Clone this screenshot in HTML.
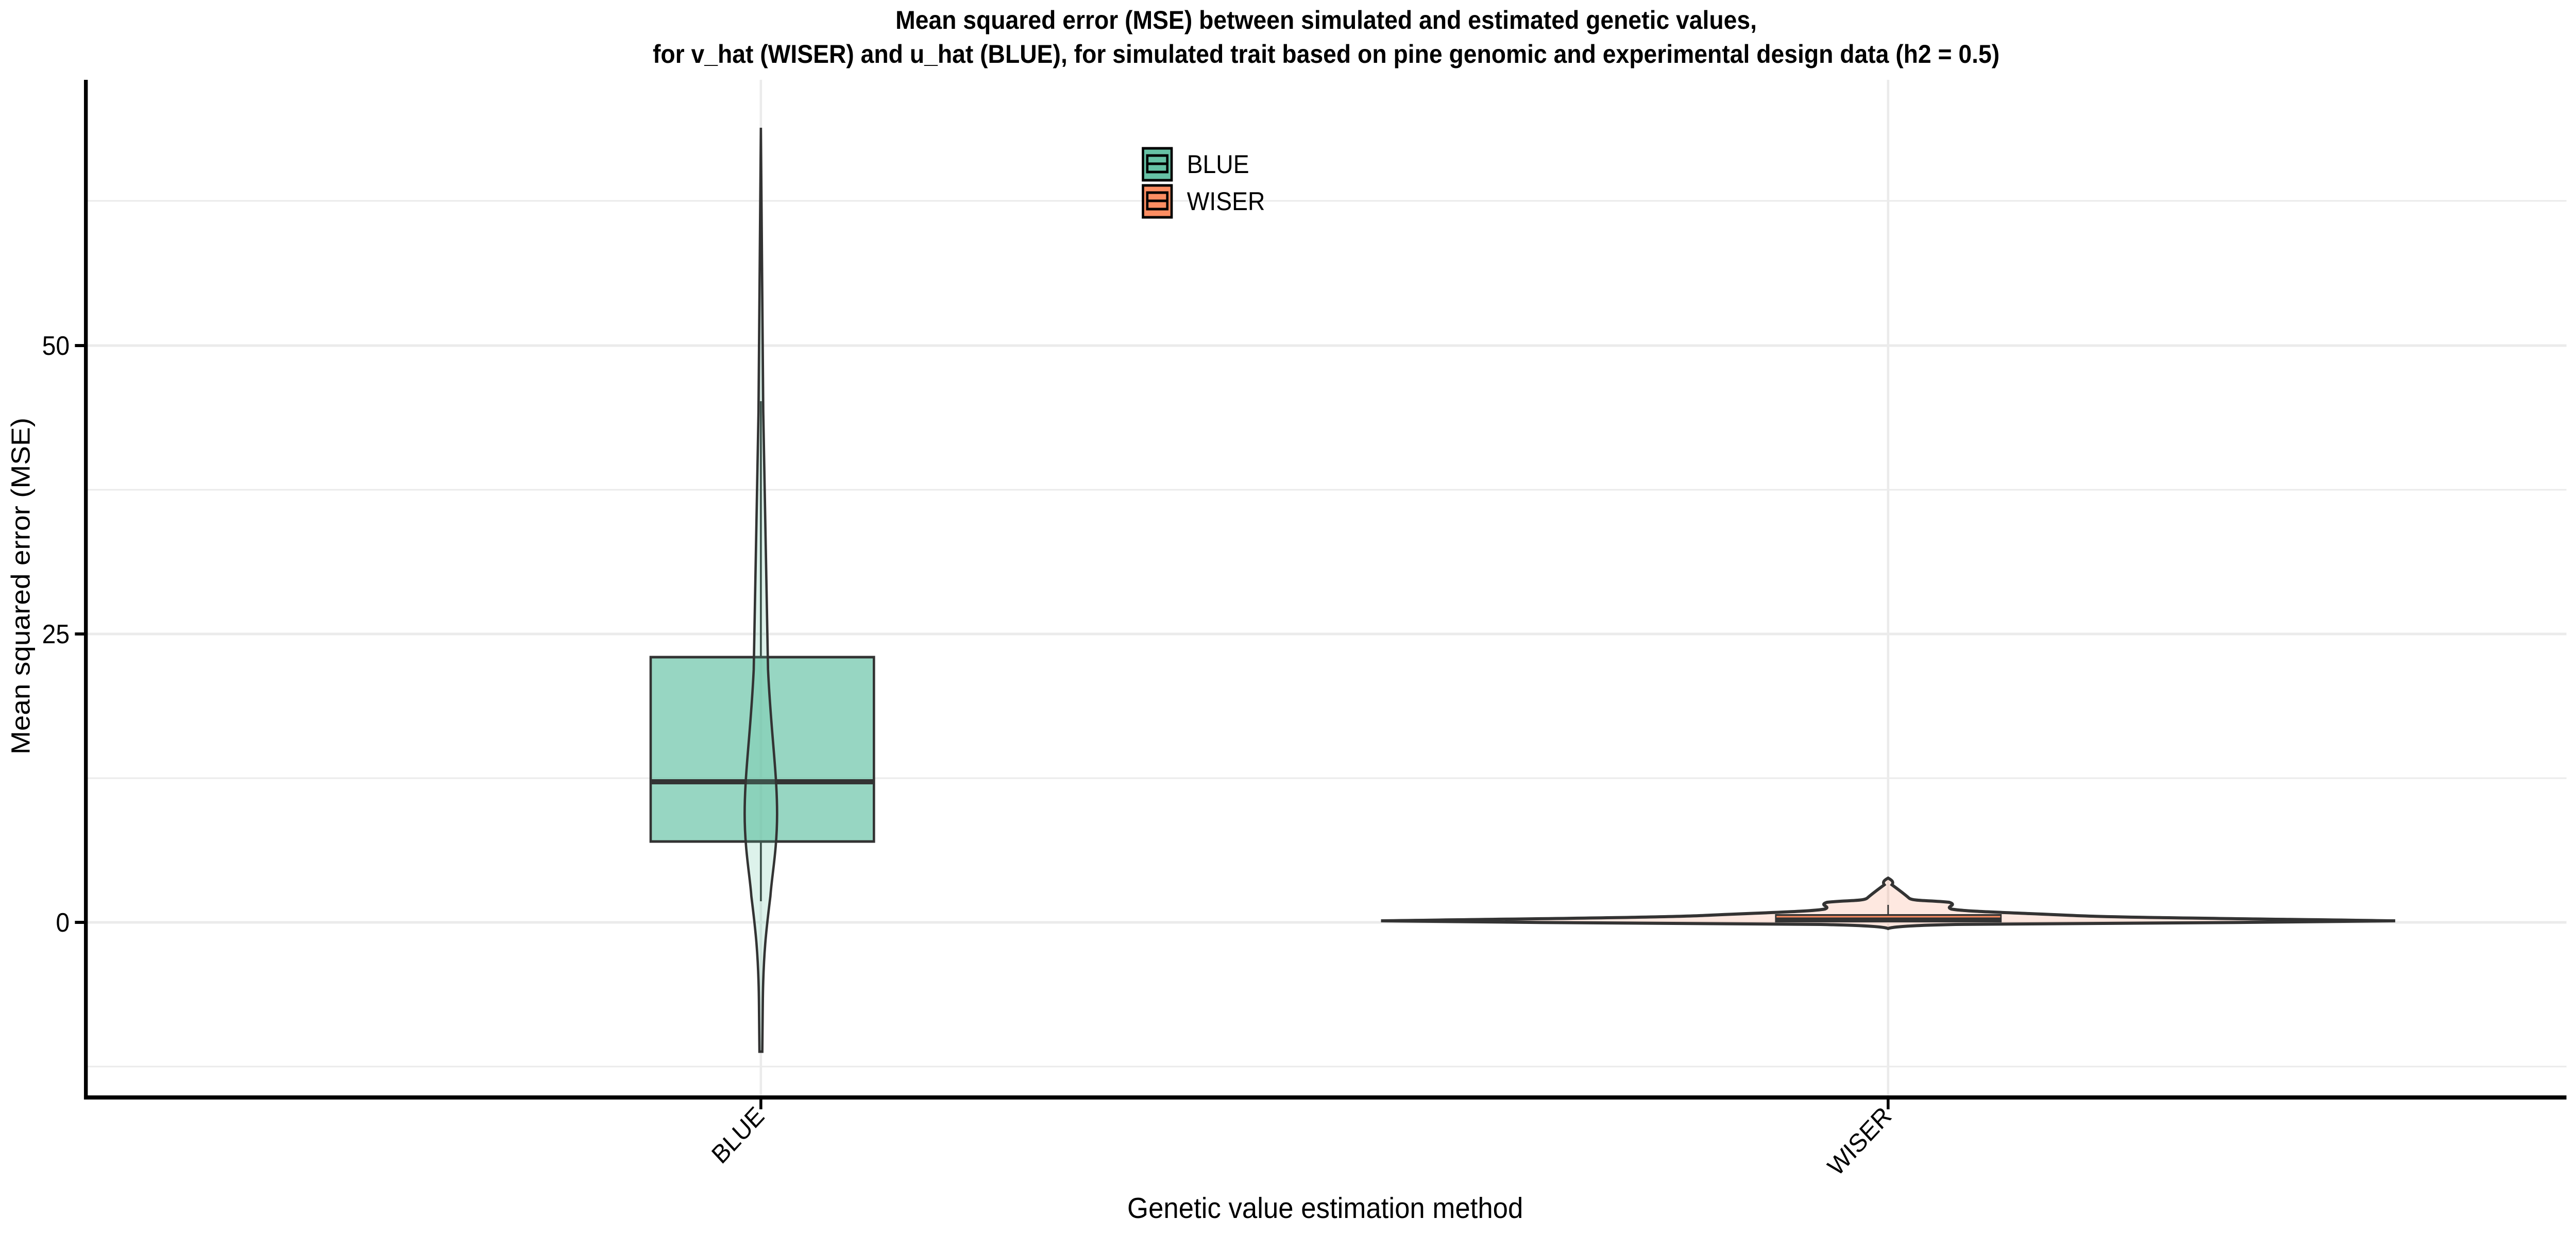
<!DOCTYPE html>
<html><head><meta charset="utf-8"><style>
html,body{margin:0;padding:0;background:#fff;width:100%;height:100%;overflow:hidden;}
svg{display:block;width:100vw;height:100vh;font-family:"Liberation Sans",sans-serif;}
</style></head><body>
<svg viewBox="0 0 5400 2400" preserveAspectRatio="none" xmlns="http://www.w3.org/2000/svg">
<rect width="5400" height="2400" fill="#fff"/>
<text x="2780" y="56" font-size="50" font-weight="bold" text-anchor="middle">Mean squared error (MSE) between simulated and estimated genetic values,</text>
<text x="2780" y="122" font-size="50" font-weight="bold" text-anchor="middle">for v_hat (WISER) and u_hat (BLUE), for simulated trait based on pine genomic and experimental design data (h2 = 0.5)</text>
<g stroke="#ebebeb">
<line x1="184" x2="5380" y1="390" y2="390" stroke-width="3"/>
<line x1="184" x2="5380" y1="951" y2="951" stroke-width="3"/>
<line x1="184" x2="5380" y1="1511" y2="1511" stroke-width="3"/>
<line x1="184" x2="5380" y1="2071" y2="2071" stroke-width="3"/>
<line x1="184" x2="5380" y1="671" y2="671" stroke-width="5"/>
<line x1="184" x2="5380" y1="1231" y2="1231" stroke-width="5"/>
<line x1="184" x2="5380" y1="1791" y2="1791" stroke-width="5"/>
<line x1="1595" x2="1595" y1="155" y2="2127" stroke-width="5"/>
<line x1="3958" x2="3958" y1="155" y2="2127" stroke-width="5"/>
</g>
<rect x="1364" y="1276" width="468" height="358" fill="#66c2a5" fill-opacity="0.68" stroke="#333" stroke-width="5"/>
<line x1="1364" x2="1832" y1="1518" y2="1518" stroke="#333" stroke-width="10"/>
<line x1="1595" x2="1595" y1="779" y2="1276" stroke="#333" stroke-width="4"/>
<line x1="1595" x2="1595" y1="1634" y2="1750" stroke="#333" stroke-width="4"/>
<path d="M1595,248 C1597,400 1598,600 1600,800 C1603,1000 1606,1150 1610,1300 C1616,1420 1629,1500 1629,1580 C1629,1650 1618,1700 1615,1740 C1607,1800 1600,1850 1599,1950 L1598,2042 L1592,2042 L1591,1950 C1590,1850 1583,1800 1575,1740 C1572,1700 1561,1650 1561,1580 C1561,1500 1574,1420 1580,1300 C1584,1150 1587,1000 1590,800 C1592,600 1593,400 1595,248 Z" fill="#66c2a5" fill-opacity="0.22" stroke="#333" stroke-width="5"/>
<path d="M2895,1788 C3200,1784 3450,1782 3562,1778 C3700,1772 3800,1770 3826,1765 C3840,1760 3810,1758 3830,1752 C3870,1748 3905,1750 3914,1744 C3925,1735 3940,1725 3950,1718 C3945,1712 3952,1708 3958,1705 C3964,1708 3971,1712 3966,1718 C3976,1725 3991,1735 4002,1744 C4011,1750 4046,1748 4086,1752 C4106,1758 4076,1760 4090,1765 C4116,1770 4216,1772 4354,1778 C4466,1782 4716,1784 5021,1788 C4716,1792 4300,1793 4100,1795 C4000,1797 3965,1800 3958,1803 C3951,1800 3916,1797 3816,1795 C3616,1793 3200,1792 2895,1788 Z" fill="#fc8d62" fill-opacity="0.2" stroke="#333" stroke-width="6"/>
<rect x="3721" y="1775" width="475" height="16" fill="#333"/>
<line x1="3724" x2="4193" y1="1780" y2="1780" stroke="#fc8d62" stroke-width="3"/>
<line x1="3958" x2="3958" y1="1757" y2="1775" stroke="#333" stroke-width="3"/>
<line x1="180" x2="180" y1="155" y2="2135" stroke="#000" stroke-width="8"/>
<line x1="176" x2="5380" y1="2131" y2="2131" stroke="#000" stroke-width="8"/>
<g stroke="#000" stroke-width="6">
<line x1="157" x2="180" y1="671" y2="671"/>
<line x1="157" x2="180" y1="1231" y2="1231"/>
<line x1="157" x2="180" y1="1791" y2="1791"/>
<line x1="1595" x2="1595" y1="2131" y2="2154"/>
<line x1="3958" x2="3958" y1="2131" y2="2154"/>
</g>
<g font-size="52" text-anchor="end">
<text x="146" y="689">50</text>
<text x="146" y="1249">25</text>
<text x="146" y="1809">0</text>
</g>
<text transform="translate(1605,2170) rotate(-45)" font-size="50" text-anchor="end">BLUE</text>
<text transform="translate(3968,2170) rotate(-45)" font-size="50" text-anchor="end">WISER</text>
<text x="2778" y="2365" font-size="57" text-anchor="middle">Genetic value estimation method</text>
<text transform="translate(62,1138) rotate(-90)" font-size="55" text-anchor="middle">Mean squared error (MSE)</text>
<g stroke="#000" stroke-width="5">
<rect x="2396" y="288" width="60" height="62" fill="#66c2a5"/>
<rect x="2405" y="302" width="42" height="32" fill="#66c2a5"/>
<line x1="2405" x2="2447" y1="318" y2="318"/>
<rect x="2396" y="360" width="60" height="62" fill="#fc8d62"/>
<rect x="2405" y="374" width="42" height="32" fill="#fc8d62"/>
<line x1="2405" x2="2447" y1="390" y2="390"/>
</g>
<text x="2488" y="336" font-size="50">BLUE</text>
<text x="2488" y="408" font-size="50">WISER</text>
</svg>
</body></html>
